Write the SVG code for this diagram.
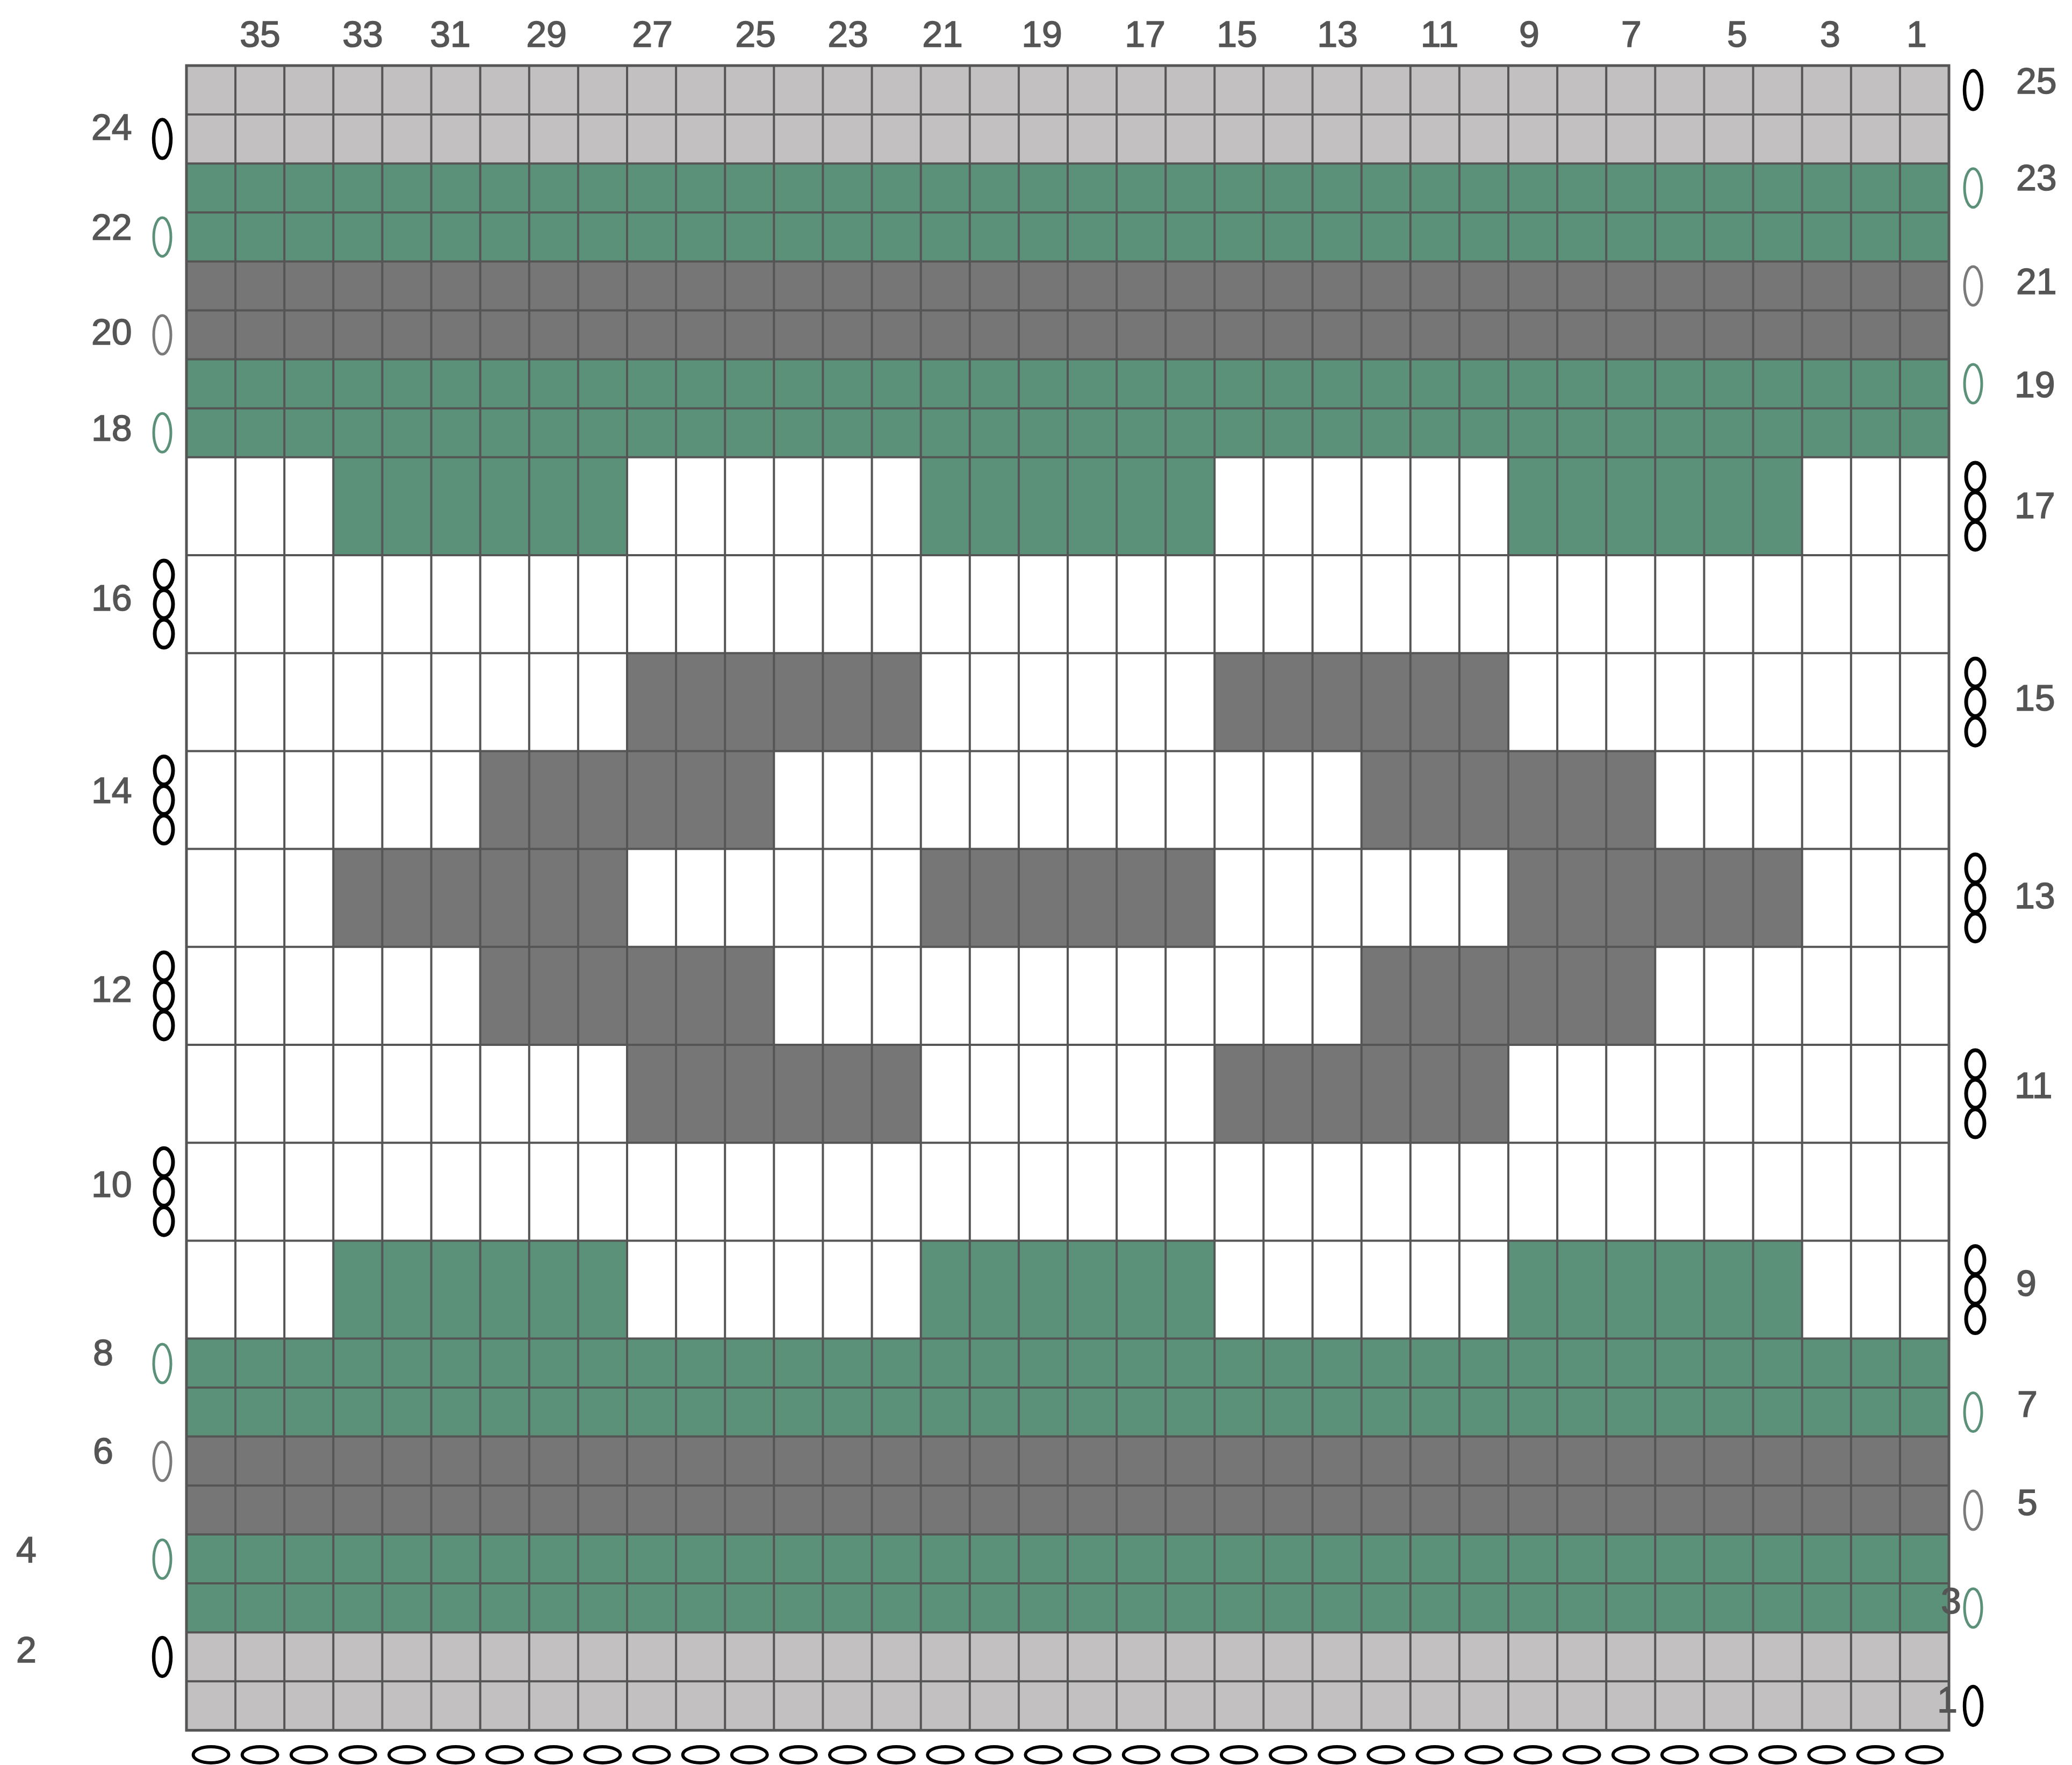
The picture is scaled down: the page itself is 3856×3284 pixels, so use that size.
<svg xmlns="http://www.w3.org/2000/svg" xmlns:xlink="http://www.w3.org/1999/xlink" width="3856" height="3284" viewBox="0 0 3856 3284">
<style>
.lg{fill:#c2c0c1}
.gr{fill:#5b9179}
.dk{fill:#777676}
.wh{fill:#ffffff}
.grid{fill:none;stroke:#555555;stroke-width:4}
.border{fill:none;stroke:#555555;stroke-width:5}
.ob{fill:none;stroke:#000000;stroke-width:6.5}
.ot{fill:none;stroke:#000000;stroke-width:7}
.og{fill:none;stroke:#5b9179;stroke-width:5}
.od{fill:none;stroke:#7a7a7a;stroke-width:5}
.ch{fill:none;stroke:#000000;stroke-width:6}
.lbl{font-family:"Liberation Sans",Arial,sans-serif;font-size:68px;fill:#555555;stroke:#555555;stroke-width:1.6px}
.top{text-anchor:middle}
</style>
<defs>
<g id="triple">
<ellipse class="ot" cx="0" cy="-55" rx="17" ry="26"/>
<ellipse class="ot" cx="0" cy="0" rx="17" ry="26"/>
<ellipse class="ot" cx="0" cy="55" rx="17" ry="26"/>
</g>
<ellipse id="chain" class="ch" cx="0" cy="0" rx="33" ry="15"/>
</defs>
<rect width="3856" height="3284" fill="#ffffff"/>
<g id="bands">
<rect class="lg" x="347" y="122" width="3280" height="182.2"/>
<rect class="gr" x="347" y="304.2" width="3280" height="182.2"/>
<rect class="dk" x="347" y="486.4" width="3280" height="182.2"/>
<rect class="gr" x="347" y="668.6" width="3280" height="182.2"/>
<rect class="wh" x="347" y="850.8" width="3280" height="1639.8"/>
<rect class="gr" x="347" y="2490.6" width="3280" height="182.2"/>
<rect class="dk" x="347" y="2672.8" width="3280" height="182.2"/>
<rect class="gr" x="347" y="2855" width="3280" height="182.2"/>
<rect class="lg" x="347" y="3037.2" width="3280" height="182.2"/>
</g>
<g id="pattern">
<rect class="gr" x="620.3" y="850.8" width="546.7" height="182.2"/>
<rect class="gr" x="1713.7" y="850.8" width="546.6" height="182.2"/>
<rect class="gr" x="2807" y="850.8" width="546.7" height="182.2"/>
<rect class="dk" x="1167" y="1215.2" width="546.7" height="182.2"/>
<rect class="dk" x="2260.3" y="1215.2" width="546.7" height="182.2"/>
<rect class="dk" x="893.7" y="1397.4" width="546.6" height="182.2"/>
<rect class="dk" x="2533.7" y="1397.4" width="546.6" height="182.2"/>
<rect class="dk" x="620.3" y="1579.6" width="546.7" height="182.2"/>
<rect class="dk" x="1713.7" y="1579.6" width="546.6" height="182.2"/>
<rect class="dk" x="2807" y="1579.6" width="546.7" height="182.2"/>
<rect class="dk" x="893.7" y="1761.8" width="546.6" height="182.2"/>
<rect class="dk" x="2533.7" y="1761.8" width="546.6" height="182.2"/>
<rect class="dk" x="1167" y="1944" width="546.7" height="182.2"/>
<rect class="dk" x="2260.3" y="1944" width="546.7" height="182.2"/>
<rect class="gr" x="620.3" y="2308.4" width="546.7" height="182.2"/>
<rect class="gr" x="1713.7" y="2308.4" width="546.6" height="182.2"/>
<rect class="gr" x="2807" y="2308.4" width="546.7" height="182.2"/>
</g>
<g id="grid">
<path class="grid" d="M438.1 122V3219.4M529.2 122V3219.4M620.3 122V3219.4M711.4 122V3219.4M802.6 122V3219.4M893.7 122V3219.4M984.8 122V3219.4M1075.9 122V3219.4M1167 122V3219.4M1258.1 122V3219.4M1349.2 122V3219.4M1440.3 122V3219.4M1531.4 122V3219.4M1622.6 122V3219.4M1713.7 122V3219.4M1804.8 122V3219.4M1895.9 122V3219.4M1987 122V3219.4M2078.1 122V3219.4M2169.2 122V3219.4M2260.3 122V3219.4M2351.4 122V3219.4M2442.6 122V3219.4M2533.7 122V3219.4M2624.8 122V3219.4M2715.9 122V3219.4M2807 122V3219.4M2898.1 122V3219.4M2989.2 122V3219.4M3080.3 122V3219.4M3171.4 122V3219.4M3262.6 122V3219.4M3353.7 122V3219.4M3444.8 122V3219.4M3535.9 122V3219.4"/>
<path class="grid" d="M347 213.1H3627M347 304.2H3627M347 395.3H3627M347 486.4H3627M347 577.5H3627M347 668.6H3627M347 759.7H3627M347 850.8H3627M347 1033H3627M347 1215.2H3627M347 1397.4H3627M347 1579.6H3627M347 1761.8H3627M347 1944H3627M347 2126.2H3627M347 2308.4H3627M347 2490.6H3627M347 2581.7H3627M347 2672.8H3627M347 2763.9H3627M347 2855H3627M347 2946.1H3627M347 3037.2H3627M347 3128.3H3627"/>
<rect class="border" x="347" y="122" width="3280" height="3097.4"/>
</g>
<g id="left-symbols">
<ellipse class="ob" cx="302" cy="258.6" rx="16" ry="36"/>
<ellipse class="og" cx="302" cy="440.9" rx="16" ry="36"/>
<ellipse class="od" cx="302" cy="623" rx="16" ry="36"/>
<ellipse class="og" cx="302" cy="805.2" rx="16" ry="36"/>
<use xlink:href="#triple" href="#triple" x="305" y="1124.1"/>
<use xlink:href="#triple" href="#triple" x="305" y="1488.5"/>
<use xlink:href="#triple" href="#triple" x="305" y="1852.9"/>
<use xlink:href="#triple" href="#triple" x="305" y="2217.3"/>
<ellipse class="og" cx="302" cy="2537" rx="16" ry="36"/>
<ellipse class="od" cx="302" cy="2719" rx="16" ry="36"/>
<ellipse class="og" cx="302" cy="2901" rx="16" ry="36"/>
<ellipse class="ob" cx="302" cy="3083" rx="16" ry="36"/>
</g>
<g id="right-symbols">
<ellipse class="ob" cx="3672" cy="167.5" rx="16" ry="36"/>
<ellipse class="og" cx="3672" cy="349.7" rx="16" ry="36"/>
<ellipse class="od" cx="3672" cy="532" rx="16" ry="36"/>
<ellipse class="og" cx="3672" cy="714.1" rx="16" ry="36"/>
<use xlink:href="#triple" href="#triple" x="3676" y="941.9"/>
<use xlink:href="#triple" href="#triple" x="3676" y="1306.3"/>
<use xlink:href="#triple" href="#triple" x="3676" y="1670.7"/>
<use xlink:href="#triple" href="#triple" x="3676" y="2035.1"/>
<use xlink:href="#triple" href="#triple" x="3676" y="2399.5"/>
<ellipse class="og" cx="3672" cy="2627.5" rx="16" ry="36"/>
<ellipse class="od" cx="3672" cy="2810" rx="16" ry="36"/>
<ellipse class="og" cx="3672" cy="2992" rx="16" ry="36"/>
<ellipse class="ob" cx="3672" cy="3174" rx="16" ry="36"/>
</g>
<g id="foundation-chain">
<use xlink:href="#chain" href="#chain" x="392.6" y="3265"/>
<use xlink:href="#chain" href="#chain" x="483.7" y="3265"/>
<use xlink:href="#chain" href="#chain" x="574.8" y="3265"/>
<use xlink:href="#chain" href="#chain" x="665.9" y="3265"/>
<use xlink:href="#chain" href="#chain" x="757" y="3265"/>
<use xlink:href="#chain" href="#chain" x="848.1" y="3265"/>
<use xlink:href="#chain" href="#chain" x="939.2" y="3265"/>
<use xlink:href="#chain" href="#chain" x="1030.3" y="3265"/>
<use xlink:href="#chain" href="#chain" x="1121.4" y="3265"/>
<use xlink:href="#chain" href="#chain" x="1212.6" y="3265"/>
<use xlink:href="#chain" href="#chain" x="1303.7" y="3265"/>
<use xlink:href="#chain" href="#chain" x="1394.8" y="3265"/>
<use xlink:href="#chain" href="#chain" x="1485.9" y="3265"/>
<use xlink:href="#chain" href="#chain" x="1577" y="3265"/>
<use xlink:href="#chain" href="#chain" x="1668.1" y="3265"/>
<use xlink:href="#chain" href="#chain" x="1759.2" y="3265"/>
<use xlink:href="#chain" href="#chain" x="1850.3" y="3265"/>
<use xlink:href="#chain" href="#chain" x="1941.4" y="3265"/>
<use xlink:href="#chain" href="#chain" x="2032.6" y="3265"/>
<use xlink:href="#chain" href="#chain" x="2123.7" y="3265"/>
<use xlink:href="#chain" href="#chain" x="2214.8" y="3265"/>
<use xlink:href="#chain" href="#chain" x="2305.9" y="3265"/>
<use xlink:href="#chain" href="#chain" x="2397" y="3265"/>
<use xlink:href="#chain" href="#chain" x="2488.1" y="3265"/>
<use xlink:href="#chain" href="#chain" x="2579.2" y="3265"/>
<use xlink:href="#chain" href="#chain" x="2670.3" y="3265"/>
<use xlink:href="#chain" href="#chain" x="2761.4" y="3265"/>
<use xlink:href="#chain" href="#chain" x="2852.6" y="3265"/>
<use xlink:href="#chain" href="#chain" x="2943.7" y="3265"/>
<use xlink:href="#chain" href="#chain" x="3034.8" y="3265"/>
<use xlink:href="#chain" href="#chain" x="3125.9" y="3265"/>
<use xlink:href="#chain" href="#chain" x="3217" y="3265"/>
<use xlink:href="#chain" href="#chain" x="3308.1" y="3265"/>
<use xlink:href="#chain" href="#chain" x="3399.2" y="3265"/>
<use xlink:href="#chain" href="#chain" x="3490.3" y="3265"/>
<use xlink:href="#chain" href="#chain" x="3581.4" y="3265"/>
</g>
<g id="column-labels" class="lbl top">
<text x="484" y="87">35</text>
<text x="675" y="87">33</text>
<text x="838" y="87">31</text>
<text x="1017" y="87">29</text>
<text x="1214" y="87">27</text>
<text x="1406" y="87">25</text>
<text x="1578" y="87">23</text>
<text x="1754" y="87">21</text>
<text x="1939" y="87">19</text>
<text x="2131" y="87">17</text>
<text x="2302" y="87">15</text>
<text x="2489" y="87">13</text>
<text x="2679" y="87">11</text>
<text x="2846" y="87">9</text>
<text x="3036" y="87">7</text>
<text x="3233" y="87">5</text>
<text x="3406" y="87">3</text>
<text x="3567" y="87">1</text>
</g>
<g id="left-row-labels" class="lbl">
<text x="170" y="260">24</text>
<text x="170" y="446">22</text>
<text x="170" y="641">20</text>
<text x="170" y="820">18</text>
<text x="170" y="1136">16</text>
<text x="170" y="1494">14</text>
<text x="170" y="1864">12</text>
<text x="170" y="2227">10</text>
<text x="173" y="2540">8</text>
<text x="173" y="2723">6</text>
<text x="30" y="2907">4</text>
<text x="30" y="3093">2</text>
</g>
<g id="right-row-labels" class="lbl">
<text x="3752" y="174">25</text>
<text x="3752" y="354">23</text>
<text x="3752" y="547">21</text>
<text x="3749" y="739">19</text>
<text x="3749" y="964">17</text>
<text x="3749" y="1322">15</text>
<text x="3749" y="1690">13</text>
<text x="3749" y="2043">11</text>
<text x="3752" y="2411">9</text>
<text x="3754" y="2636">7</text>
<text x="3754" y="2819">5</text>
<text x="3612" y="3002">3</text>
<text x="3605" y="3186">1</text>
</g>
</svg>
